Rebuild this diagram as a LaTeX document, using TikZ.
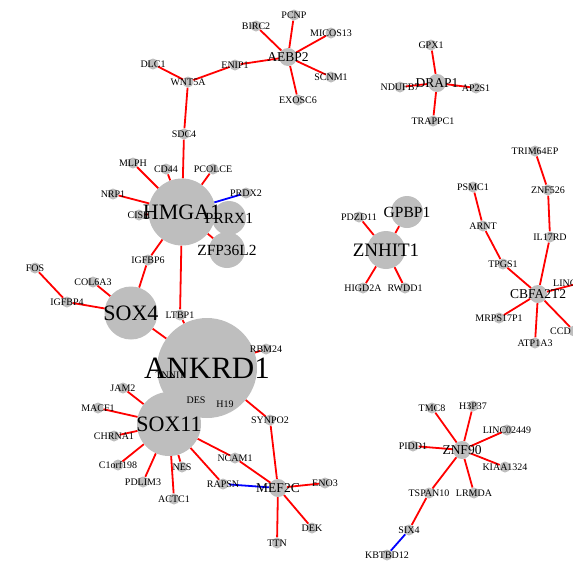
\documentclass[tikz,border=0pt]{standalone}
\usepackage{fontspec}
\setmainfont{Liberation Serif}
\definecolor{nodegrey}{RGB}{190,190,190}
\pgfdeclarelayer{bg}
\pgfsetlayers{bg,main}

\begin{document}
\begin{tikzpicture}[x=1pt,y=-1pt,
  gene/.style={circle,fill=nodegrey,inner sep=0pt,minimum size=11pt},
  mid/.style={gene,minimum size=18pt},
  hub/.style={gene,minimum size=#1},
  upedge/.style={red,line width=1.8pt},
  dnedge/.style={blue,line width=1.8pt},
  lab/.style={inner sep=0pt,font=\fontsize{10}{12}\selectfont},
  labm/.style={inner sep=0pt,font=\fontsize{13.5}{15}\selectfont},
  labl/.style={inner sep=0pt,font=\fontsize{15.5}{17}\selectfont}]
\useasboundingbox (0,0) rectangle (573,563);
\clip (0,0) rectangle (573,563);
% AEBP2 / WNT5A
\node[gene] (pcnp) at (294,15) {};
\node[gene] (birc2) at (256,26) {};
\node[gene] (micos13) at (331,33) {};
\node[mid] (aebp2) at (288,57) {};
\node[gene] (scnm1) at (331,77) {};
\node[gene] (exosc6) at (298,100) {};
\node[gene] (enip1) at (235,65) {};
\node[gene] (dlc1) at (153,64) {};
\node[gene] (wnt5a) at (188,82) {};
\node[gene] (sdc4) at (184,134) {};
% HMGA1
\node[gene] (mlph) at (133,163) {};
\node[gene] (cd44) at (166,169) {};
\node[gene] (pcolce) at (213,169) {};
\node[gene] (prdx2) at (246,193) {};
\node[gene] (nrp1) at (113,194) {};
\node[gene] (cish) at (139,215) {};
\node[hub=67pt] (hmga1) at (182,212) {};
\node[hub=34pt] (prrx1) at (229,218) {};
\node[hub=36pt] (zfp36l2) at (227,250) {};
\node[gene] (igfbp6) at (148,260) {};
% SOX4
\node[gene] (fos) at (35,268) {};
\node[gene] (col6a3) at (93,282) {};
\node[gene] (igfbp4) at (67,302) {};
\node[hub=53pt] (sox4) at (131,313) {};
\node[gene] (ltbp1) at (180,315) {};
% ANKRD1 / SOX11
\node[gene] (rbm24) at (266,349) {};
\node[gene] (synpo2) at (270,420) {};
\node[gene] (jam2) at (123,388) {};
\node[gene] (macf1) at (98,408) {};
\node[gene] (chrna1) at (114,436) {};
\node[gene] (c1orf198) at (118,465) {};
\node[gene] (pdlim3) at (143,482) {};
\node[gene] (actc1) at (174,499) {};
\node[gene] (nes) at (182,467) {};
\node[gene] (rapsn) at (223,484) {};
\node[gene] (ncam1) at (235,458) {};
\node[gene] (tnni1) at (170,375) {};
\node[gene] (des) at (196,400) {};
\node[gene] (h19) at (225,404) {};
\node[hub=64pt] (sox11) at (169,424) {};
\node[hub=100pt] (ankrd1) at (207,368) {};
% MEF2C
\node[mid] (mef2c) at (278,488) {};
\node[gene] (eno3) at (325,483) {};
\node[gene] (dek) at (312,528) {};
\node[gene] (ttn) at (277,543) {};
% DRAP1
\node[gene] (gpx1) at (431,45) {};
\node[gene] (ndufb7) at (400,87) {};
\node[gene] (ap2s1) at (476,88) {};
\node[gene] (trappc1) at (433,121) {};
\node[mid] (drap1) at (437,83) {};
% ZNHIT1
\node[gene] (pdzd11) at (359,217) {};
\node[gene] (higd2a) at (363,288) {};
\node[gene] (rwdd1) at (405,288) {};
\node[hub=32pt] (gpbp1) at (407,212) {};
\node[hub=38pt] (znhit1) at (386,250) {};
% CBFA2T2
\node[gene] (trim64ep) at (535,151) {};
\node[gene] (znf526) at (548,190) {};
\node[gene] (il17rd) at (550,237) {};
\node[gene] (psmc1) at (473,187) {};
\node[gene] (arnt) at (483,226) {};
\node[gene] (tpgs1) at (503,264) {};
\node[gene] (linc) at (580,283) {};
\node[gene] (ccd) at (574,331) {};
\node[gene] (mrps17p1) at (499,318) {};
\node[gene] (atp1a3) at (535,343) {};
\node[mid] (cbfa2t2) at (538,294) {};
% ZNF90
\node[gene] (tmc8) at (432,408) {};
\node[gene] (h3p37) at (473,406) {};
\node[gene] (linc02449) at (507,430) {};
\node[gene] (pidd1) at (413,446) {};
\node[gene] (kiaa1324) at (505,467) {};
\node[gene] (lrmda) at (474,493) {};
\node[gene] (tspan10) at (429,493) {};
\node[gene] (six4) at (409,530) {};
\node[gene] (kbtbd12) at (387,555) {};
\node[mid] (znf90) at (462,450) {};

\begin{pgfonlayer}{bg}
\foreach \t in {pcnp,birc2,micos13,scnm1,exosc6,enip1}
  \path[upedge] (aebp2) edge (\t);
\path[upedge] (enip1) edge (wnt5a);
\path[upedge] (wnt5a) edge (dlc1);
\path[upedge] (wnt5a) edge (sdc4);
\foreach \t in {sdc4,mlph,cd44,pcolce,nrp1,cish,zfp36l2,igfbp6,ltbp1}
  \path[upedge] (hmga1) edge (\t);
\path[dnedge] (hmga1) edge (prdx2);
\foreach \t in {igfbp6,col6a3,igfbp4,ankrd1}
  \path[upedge] (sox4) edge (\t);
\path[upedge] (igfbp4) edge (fos);
\foreach \t in {ltbp1,rbm24,synpo2}
  \path[upedge] (ankrd1) edge (\t);
\foreach \t in {jam2,macf1,chrna1,c1orf198,pdlim3,actc1,nes,rapsn,ncam1}
  \path[upedge] (sox11) edge (\t);
\foreach \t in {synpo2,ncam1,eno3,dek,ttn}
  \path[upedge] (mef2c) edge (\t);
\path[dnedge] (rapsn) edge (mef2c);
\foreach \t in {gpx1,ndufb7,ap2s1,trappc1}
  \path[upedge] (drap1) edge (\t);
\foreach \t in {pdzd11,gpbp1,higd2a,rwdd1}
  \path[upedge] (znhit1) edge (\t);
\foreach \t in {il17rd,tpgs1,linc,ccd,mrps17p1,atp1a3}
  \path[upedge] (cbfa2t2) edge (\t);
\path[upedge] (il17rd) edge (znf526);
\path[upedge] (znf526) edge (trim64ep);
\path[upedge] (tpgs1) edge (arnt);
\path[upedge] (arnt) edge (psmc1);
\foreach \t in {tmc8,h3p37,linc02449,pidd1,kiaa1324,lrmda,tspan10}
  \path[upedge] (znf90) edge (\t);
\path[upedge] (tspan10) edge (six4);
\path[dnedge] (six4) edge (kbtbd12);
\end{pgfonlayer}

% labels on top
\foreach \n/\t in {pcnp/PCNP,birc2/BIRC2,micos13/MICOS13,scnm1/SCNM1,exosc6/EXOSC6,
  enip1/ENIP1,dlc1/DLC1,wnt5a/WNT5A,sdc4/SDC4,mlph/MLPH,cd44/CD44,pcolce/PCOLCE,
  prdx2/PRDX2,nrp1/NRP1,cish/CISH,igfbp6/IGFBP6,fos/FOS,col6a3/COL6A3,igfbp4/IGFBP4,
  ltbp1/LTBP1,rbm24/RBM24,synpo2/SYNPO2,jam2/JAM2,macf1/MACF1,chrna1/CHRNA1,
  c1orf198/C1orf198,pdlim3/PDLIM3,actc1/ACTC1,nes/NES,rapsn/RAPSN,ncam1/NCAM1,
  tnni1/TNNI1,des/DES,h19/H19,eno3/ENO3,dek/DEK,ttn/TTN,gpx1/GPX1,ndufb7/NDUFB7,
  ap2s1/AP2S1,trappc1/TRAPPC1,pdzd11/PDZD11,higd2a/HIGD2A,rwdd1/RWDD1,
  trim64ep/TRIM64EP,znf526/ZNF526,il17rd/IL17RD,psmc1/PSMC1,arnt/ARNT,tpgs1/TPGS1,
  mrps17p1/MRPS17P1,atp1a3/ATP1A3,tmc8/TMC8,h3p37/H3P37,linc02449/LINC02449,
  pidd1/PIDD1,kiaa1324/KIAA1324,lrmda/LRMDA,tspan10/TSPAN10,six4/SIX4,kbtbd12/KBTBD12}
  \node[lab] at (\n) {\t};
\node[lab,anchor=west] at ([xshift=-27pt]linc) {LINC};
\node[lab,anchor=west] at ([xshift=-24pt]ccd) {CCD};
\foreach \n/\t in {aebp2/AEBP2,drap1/DRAP1,mef2c/MEF2C,cbfa2t2/CBFA2T2,znf90/ZNF90}
  \node[labm] at (\n) {\t};
\foreach \n/\t in {prrx1/PRRX1,zfp36l2/ZFP36L2,gpbp1/GPBP1}
  \node[labl] at (\n) {\t};
\node[inner sep=0pt,font=\fontsize{19}{21}\selectfont] at (znhit1) {ZNHIT1};
\foreach \n/\t in {hmga1/HMGA1,sox4/SOX4,sox11/SOX11}
  \node[inner sep=0pt,font=\fontsize{22}{24}\selectfont] at (\n) {\t};
\node[inner sep=0pt,font=\fontsize{31}{33}\selectfont] at (ankrd1) {ANKRD1};
\end{tikzpicture}
\end{document}
